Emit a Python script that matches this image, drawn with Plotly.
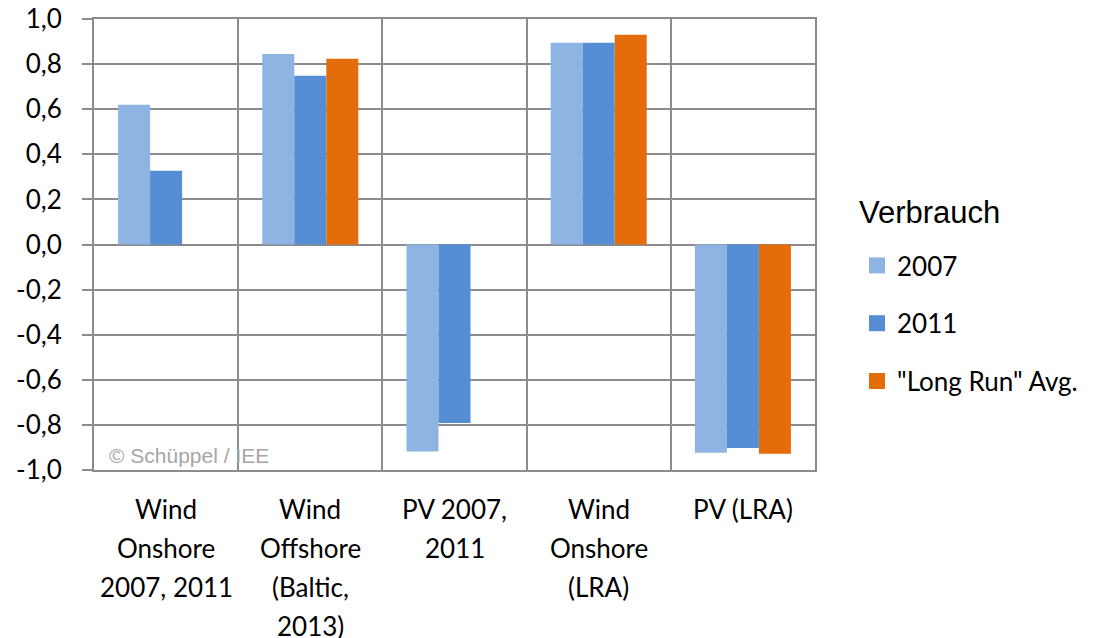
import plotly.graph_objects as go

categories = [
    "Wind<br>Onshore<br>2007, 2011",
    "Wind<br>Offshore<br>(Baltic,<br>2013)",
    "PV 2007,<br>2011",
    "Wind<br>Onshore<br>(LRA)",
    "PV (LRA)",
]
series_names = ["2007", "2011", "\"Long Run\" Avg."]
values_2007 = [0.62, 0.845, -0.918, 0.895, -0.924]
values_2011 = [0.327, 0.748, -0.792, 0.895, -0.902]
values_lra = [None, 0.824, None, 0.93, -0.928]
colors = ["#8EB4E3", "#558ED5", "#E46C0A"]
y_ticks = [-1.0, -0.8, -0.6, -0.4, -0.2, 0.0, 0.2, 0.4, 0.6, 0.8, 1.0]
y_ticktext = [f"{v:.1f}".replace(".", ",") for v in y_ticks]
legend_title = "Verbrauch"
copyright_text = "© Schüppel / IEE"

xkeys = [f"c{i}" for i in range(len(categories))]

fig = go.Figure()
for name, vals, col in zip(series_names, [values_2007, values_2011, values_lra], colors):
    fig.add_trace(go.Bar(x=xkeys, y=vals, name=name, marker=dict(color=col, line=dict(width=0)),
                         showlegend=False))
for name, col in zip(series_names, colors):
    fig.add_trace(go.Scatter(x=[None], y=[None], mode="markers", name=name, legendgroup=name,
                             marker=dict(symbol="square", size=17, color=col)))

grid = "#8C8C8C"
fig.update_layout(
    template="none",
    width=1099, height=638,
    margin=dict(l=94, r=284, t=19, b=168, autoexpand=False),
    paper_bgcolor="white", plot_bgcolor="white",
    barmode="group", bargap=0.334, bargroupgap=0,
    font=dict(family="Lato", size=26, color="black"),
    showlegend=True,
    legend=dict(
        font=dict(family="Lato", size=26, color="black"),
        x=(857 - 94) / 721, xanchor="left", y=(470 - 242) / 451, yanchor="top",
        tracegroupgap=21, bgcolor="rgba(0,0,0,0)", borderwidth=0,
    ),
    xaxis=dict(
        type="category", range=[-0.5, len(categories) - 0.5], automargin=False,
        showticklabels=False, ticks="", tickson="boundaries",
        showgrid=True, gridcolor=grid, gridwidth=2,
        showline=True, mirror=True, linecolor=grid, linewidth=2,
        zeroline=False,
    ),
    yaxis=dict(
        range=[-1.0, 1.0], tickvals=y_ticks, ticktext=y_ticktext, automargin=False,
        ticks="outside", ticklen=10, tickcolor=grid, tickwidth=2,
        ticklabelstandoff=15,
        showgrid=True, gridcolor=grid, gridwidth=2,
        zeroline=False,
        showline=True, mirror=True, linecolor=grid, linewidth=2,
        tickfont=dict(family="Lato", size=26, color="black"),
    ),
)

annotations = []
for key, label in zip(xkeys, categories):
    for i, line in enumerate(label.split("<br>")):
        annotations.append(dict(
            x=key, xref="x", y=0, yref="paper", text=line, showarrow=False,
            xanchor="center", yanchor="middle", yshift=-(39 + 39 * i),
            font=dict(family="Lato", size=26, color="black"),
        ))
annotations.append(dict(
    x=(857 - 94) / 721, xref="paper", y=(470 - 212) / 451, yref="paper", text=legend_title,
    showarrow=False, xanchor="left", yanchor="middle",
    font=dict(family="Liberation Sans", size=31, color="black"),
))
annotations.append(dict(
    x=13 / 721, xref="paper", y=15 / 451, yref="paper", text=copyright_text,
    showarrow=False, xanchor="left", yanchor="middle",
    font=dict(family="Liberation Sans", size=21, color="#A6A6A6"),
))
fig.update_layout(annotations=annotations)

fig.write_html(
    "out.html",
    config={"displayModeBar": False},
    post_script="document.body.style.margin='0';document.body.style.overflow='hidden';",
)
